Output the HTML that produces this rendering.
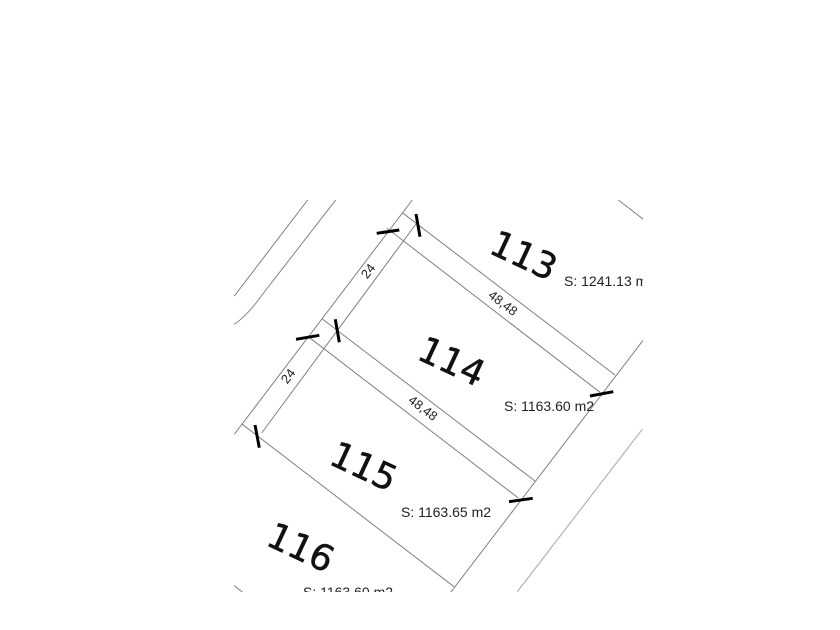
<!DOCTYPE html>
<html>
<head>
<meta charset="utf-8">
<style>
html,body{margin:0;padding:0;background:#fff;width:840px;height:630px;overflow:hidden}
svg{display:block}
.l{stroke:#808080;stroke-width:1;fill:none}
.t{stroke:#000;stroke-width:3;fill:none}
.n{font-family:"DejaVu Sans",sans-serif;font-size:36px;fill:#111;stroke:#111;stroke-width:.5}
.s{font-family:"Liberation Sans",sans-serif;font-size:14px;fill:#222}
.d{font-family:"Liberation Sans",sans-serif;font-size:13px;fill:#222}
</style>
</head>
<body>
<svg width="840" height="630" viewBox="0 0 840 630" xmlns="http://www.w3.org/2000/svg">
<defs><clipPath id="c"><rect x="234" y="200" width="409" height="392"/></clipPath></defs>
<g clip-path="url(#c)">
<path class="l" d="M307.7 200L234.3 296"/>
<path class="l" d="M335.7 200L262 295Q247 316 234.3 324.3"/>
<path class="l" d="M412.3 200L234.3 434.3"/>
<path class="l" d="M416.7 223L261.7 433"/>
<path class="l" d="M402.3 212.7L615 375"/>
<path class="l" d="M386.7 228L600 392.3"/>
<path class="l" d="M322.3 319L535 481"/>
<path class="l" d="M308.3 336.7L518.3 498"/>
<path class="l" d="M242.3 424.3L454 586.7"/>
<path class="l" d="M643.3 340L450.7 592.3"/>
<path class="l" stroke-opacity=".7" d="M642.3 429.3L517.3 591.7"/>
<path class="l" d="M618.3 200L643.3 219.3"/>
<path class="l" d="M234.3 585.7L242.7 592.3"/>
<path class="t" d="M376.7 233.3L399.3 230M416 214L420 236.7M296 339.3L319.3 335.3M335.3 319.3L339.3 342.3M255 425L259.3 447.7M590 396L613.3 391.7M509 501.7L532.7 498.3"/>
<text class="n" text-anchor="middle" transform="translate(524 255) rotate(25) translate(0 13)">113</text>
<text class="n" text-anchor="middle" transform="translate(452 361) rotate(25) translate(0 13)">114</text>
<text class="n" text-anchor="middle" transform="translate(364 466) rotate(25) translate(0 13)">115</text>
<text class="n" text-anchor="middle" transform="translate(301 547) rotate(25) translate(0 13)">116</text>
<text class="s" x="564" y="286">S: 1241.13 m2</text>
<text class="s" x="504" y="411">S: 1163.60 m2</text>
<text class="s" x="401" y="517">S: 1163.65 m2</text>
<text class="s" x="303" y="597">S: 1163.60 m2</text>
<text class="d" text-anchor="middle" transform="translate(503 303) rotate(37.3) translate(0 4.5)">48,48</text>
<text class="d" text-anchor="middle" transform="translate(423 408) rotate(37.3) translate(0 4.5)">48,48</text>
<text class="d" text-anchor="middle" transform="translate(368 271) rotate(-52.7) translate(0 4.5)">24</text>
<text class="d" text-anchor="middle" transform="translate(288 376) rotate(-52.7) translate(0 4.5)">24</text>
</g>
</svg>
</body>
</html>
